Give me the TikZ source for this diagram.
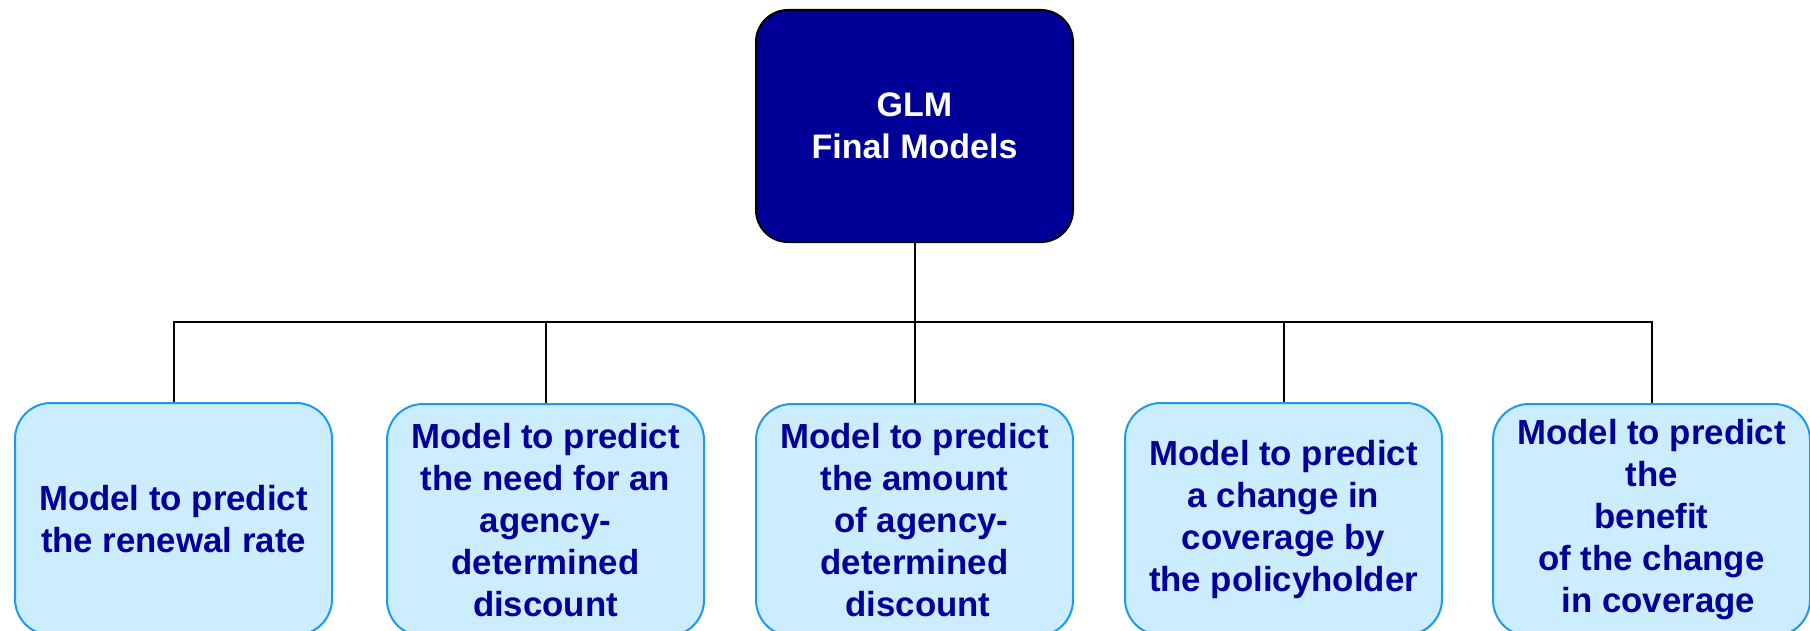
\documentclass[tikz,border=0pt]{standalone}
\usepackage{fontspec}
\setmainfont{Liberation Sans}
\definecolor{topfill}{HTML}{000099}
\definecolor{leaffill}{HTML}{CCECFF}
\definecolor{leafdraw}{HTML}{1A9BF0}
\definecolor{leaftext}{HTML}{000099}
\tikzset{
  rootbox/.style={draw=black, line width=1pt, fill=topfill, rounded corners=16pt,
    minimum width=158.5pt, minimum height=116pt, text=white, align=center,
    font=\fontsize{17pt}{21pt}\selectfont\bfseries, inner sep=0pt},
  leafbox/.style={draw=leafdraw, line width=1pt, fill=leaffill, rounded corners=18pt,
    minimum width=158.5pt, minimum height=116pt, text=leaftext, align=center,
    font=\fontsize{17.4pt}{21pt}\selectfont\bfseries, inner sep=0pt},
  link/.style={draw=black, line width=1pt}
}
\begin{document}
\begin{tikzpicture}[x=0.5pt, y=-0.5pt]
\useasboundingbox (0,0) rectangle (1810,631);
\node[rootbox] (root) at (914.5,126) {GLM\\Final Models};
\node[leafbox] (a) at (173.5,519) {Model to predict\\the renewal rate};
\node[leafbox] (b) at (545.5,520) {Model to predict\\the need for an\\agency-\\determined\\discount};
\node[leafbox] (c) at (914.5,520) {Model to predict\\the amount\\\hspace{0.4em}of agency-\\determined\\\hspace{0.2em}discount};
\node[leafbox] (d) at (1283.5,519) {Model to predict\\a change in\\coverage by\\the policyholder};
\node[leafbox] (e) at (1651.5,520) {Model to predict\\the\\benefit\\of the change\\\hspace{0.4em}in coverage};
\coordinate (bus) at (914.5,321.5);
\foreach \n in {a,b,c,d,e}{
  \draw[link] (root.south) -- (bus) -| (\n.north);
}
\end{tikzpicture}
\end{document}
